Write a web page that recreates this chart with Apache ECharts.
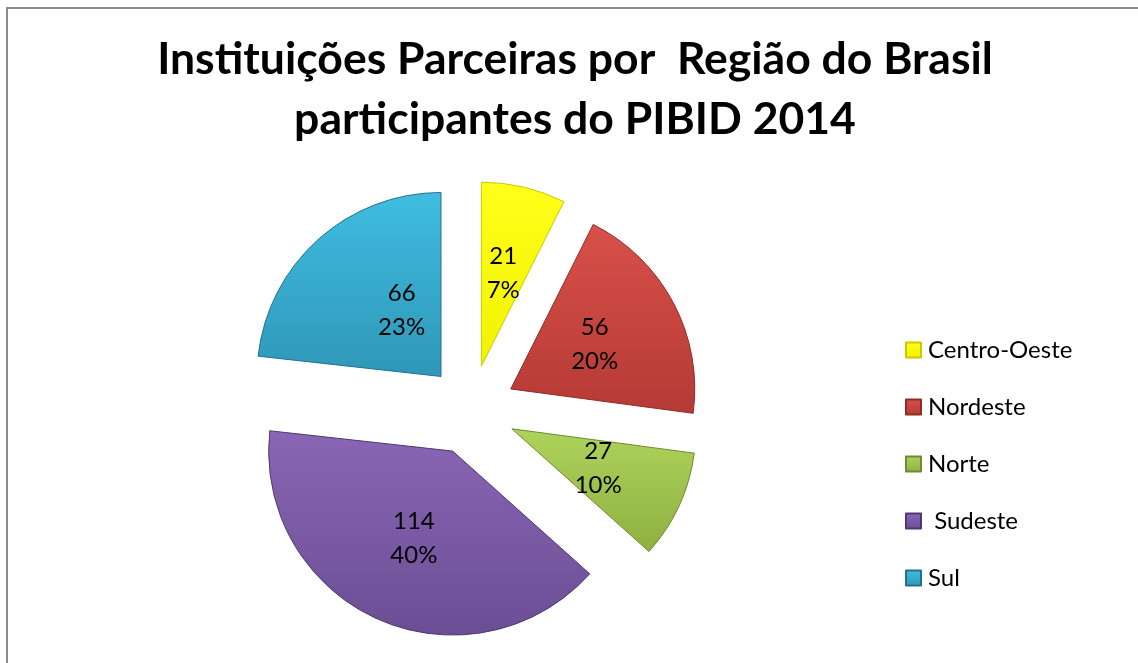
<!DOCTYPE html>
<html>
<head>
<meta charset="utf-8">
<script src="https://cdn.jsdelivr.net/npm/echarts@6/dist/echarts.min.js"></script>
<style>
  html, body { margin: 0; padding: 0; background: #fff; }
  #chart { width: 1138px; height: 663px; }
</style>
</head>
<body>
<div id="chart"></div>
<script>
// dados
var regioes = ['Centro-Oeste', 'Nordeste', 'Norte', ' Sudeste', 'Sul'];
var instituicoes = [21, 56, 27, 114, 66];

// cores (claro -> escuro)
var coresTopo = ['#ffff1a', '#d8504a', '#aed35a', '#8a66b4', '#3fbde0'];
var coresBase = ['#f2f200', '#b53a35', '#8fb042', '#6a4e94', '#2f97b8'];
var coresBorda = ['#c9c900', '#8e2c28', '#6f8a30', '#4f3a70', '#23728c'];

var chart = echarts.init(document.getElementById('chart'));

var dados = regioes.map(function (nome, i) {
  return {
    name: nome,
    value: instituicoes[i],
    selected: true,
    itemStyle: {
      color: new echarts.graphic.LinearGradient(0, 0, 0, 1, [
        {offset: 0, color: coresTopo[i]},
        {offset: 1, color: coresBase[i]}
      ]),
      borderColor: coresBorda[i],
      borderWidth: 1
    }
  };
});

var option = {
  backgroundColor: '#ffffff',
  title: {
    text: 'Instituições Parceiras por  Região do Brasil\nparticipantes do PIBID 2014',
    left: 575,
    textAlign: 'center',
    top: 30,
    padding: 0,
    textStyle: {
      fontFamily: 'Lato',
      fontWeight: 'bold',
      fontSize: 44.5,
      lineHeight: 60,
      color: '#000'
    }
  },
  legend: {
    orient: 'vertical',
    left: 900,
    top: 333,
    itemWidth: 15,
    itemHeight: 15,
    itemGap: 33,
    icon: 'rect',
    selectedMode: false,
    data: regioes,
    textStyle: {
      fontFamily: 'Lato',
      fontSize: 24,
      lineHeight: 24,
      padding: [0, 0, 0, 2],
      color: '#000'
    }
  },
  graphic: [{
    type: 'rect',
    shape: {x: 7, y: 8, width: 1200, height: 800},
    style: {fill: 'none', stroke: '#8a8a8a', lineWidth: 2},
    silent: true
  }],
  series: [{
    type: 'pie',
    center: [471, 410],
    radius: [0, 184],
    startAngle: 90,
    clockwise: true,
    selectedMode: 'multiple',
    selectedOffset: 45,
    percentPrecision: 0,
    animation: false,
    label: {
      show: true,
      position: 'inside',
      formatter: '{c}\n{d}%',
      fontFamily: 'Lato',
      fontSize: 24,
      lineHeight: 34,
      color: '#000'
    },
    // rótulo do Sul um pouco mais para dentro, como no original
    labelLayout: function (params) {
      return params.dataIndex === 4 ? {dx: 24, dy: 5} : {};
    },
    labelLine: {show: false},
    emphasis: {disabled: true},
    data: dados
  }]
};
chart.setOption(option);
</script>
</body>
</html>
